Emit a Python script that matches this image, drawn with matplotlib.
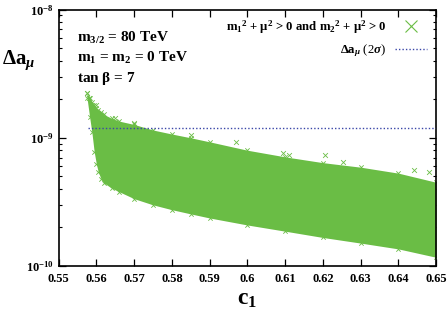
import matplotlib
matplotlib.use("Agg")
import matplotlib.pyplot as plt
from matplotlib.lines import Line2D
from matplotlib.ticker import FixedLocator, LogLocator, NullFormatter, FixedFormatter
import numpy as np

plt.rcParams['font.family'] = ['Liberation Serif', 'DejaVu Serif']
plt.rcParams['mathtext.fontset'] = 'custom'
plt.rcParams['mathtext.rm'] = 'Liberation Serif:bold'
plt.rcParams['mathtext.bf'] = 'Liberation Serif:bold'
plt.rcParams['mathtext.it'] = 'Liberation Serif:italic:bold'

# Envelope of the allowed scan region
c1 = [0.5575, 0.5582, 0.5588, 0.5594, 0.5600, 0.5605, 0.5612, 0.562, 0.564, 0.566, 0.570, 0.575, 0.580,
      0.585, 0.590, 0.600, 0.610, 0.620, 0.630, 0.640, 0.650]
upper = [2.25e-9, 2.05e-9, 1.9e-9, 1.8e-9, 1.72e-9, 1.66e-9, 1.60e-9, 1.52e-9, 1.42e-9, 1.35e-9, 1.27e-9,
         1.15e-9, 1.07e-9, 1.0e-9, 9.3e-10, 8.0e-10, 7.1e-10, 6.4e-10, 5.9e-10, 5.3e-10, 4.5e-10]
lower = [2.05e-9, 1.45e-9, 1.1e-9, 7.8e-10, 6.2e-10, 5.4e-10, 4.8e-10, 4.45e-10, 4.05e-10, 3.8e-10, 3.35e-10,
         3.0e-10, 2.75e-10, 2.55e-10, 2.37e-10, 2.09e-10, 1.87e-10, 1.67e-10, 1.51e-10, 1.36e-10, 1.17e-10]

# sparse outlier points above the dense band
out_x = [0.5575, 0.5580, 0.5600, 0.5650, 0.5700, 0.5850, 0.5970, 0.6095, 0.6110, 0.6206, 0.6254, 0.6440, 0.6480]
out_y = [2.25e-9, 2.05e-9, 1.80e-9, 1.42e-9, 1.30e-9, 1.05e-9, 9.3e-10, 7.6e-10, 7.4e-10, 7.3e-10, 6.5e-10, 5.6e-10, 5.4e-10]

# 2 sigma line
line_x = [0.5578, 0.65]
line_y = [1.2e-9, 1.2e-9]

green = '#6abd45'
blue = '#3a46a8'

fig = plt.figure(figsize=(4.48, 3.19), dpi=100)
ax = fig.add_axes([0.131, 0.166, 0.8427, 0.804])

ax.fill_between(c1, lower, upper, color=green, linewidth=0, zorder=2)
ax.scatter(c1, upper, marker='x', s=10, color=green, linewidths=0.6, zorder=2)
ax.scatter(c1, lower, marker='x', s=10, color=green, linewidths=0.6, zorder=2)
ax.scatter(out_x, out_y, marker='x', s=12, color=green, linewidths=0.6, zorder=2)
ax.plot(line_x, line_y, color=blue, linestyle=(0, (1, 1.5)), linewidth=1.0, zorder=3)

ax.set_yscale('log')
ax.set_xlim(0.55, 0.65)
ax.set_ylim(1e-10, 1e-8)

xt = [0.55, 0.56, 0.57, 0.58, 0.59, 0.60, 0.61, 0.62, 0.63, 0.64, 0.65]
xtl = ['0.55', '0.56', '0.57', '0.58', '0.59', '0.6', '0.61', '0.62', '0.63', '0.64', '0.65']
ax.xaxis.set_major_locator(FixedLocator(xt))
ax.xaxis.set_major_formatter(FixedFormatter(xtl))
ax.yaxis.set_major_locator(FixedLocator([1e-10, 1e-9, 1e-8]))
ax.yaxis.set_major_formatter(FixedFormatter([r'$\mathbf{10^{-10}}$', r'$\mathbf{10^{-9}}$', r'$\mathbf{10^{-8}}$']))
ax.yaxis.set_minor_locator(LogLocator(base=10, subs=np.arange(2, 10)))
ax.yaxis.set_minor_formatter(NullFormatter())

ax.tick_params(which='both', direction='in', top=True, right=True, labelsize=9)
ax.tick_params(which='major', length=5, width=0.9)
ax.tick_params(which='minor', length=2.5, width=0.8)
for lab in ax.get_xticklabels():
    lab.set_fontweight('bold')
ax.tick_params(axis='x', pad=5)
for s in ax.spines.values():
    s.set_linewidth(1.2)

ax.set_xlabel(r'$\mathbf{c_1}$', fontsize=17, labelpad=3)
fig.text(0.005, 0.81, r'$\Delta\mathbf{a}_{\mu}$', fontsize=15, ha='left', va='center')

ax.text(0.048, 0.889, r'$\mathbf{m_{3/2}}$ = 80 TeV', transform=ax.transAxes, fontsize=11,
        fontweight='bold', va='center')
ax.text(0.048, 0.811, r'$\mathbf{m_1}$ = $\mathbf{m_2}$ = 0 TeV', transform=ax.transAxes, fontsize=11,
        fontweight='bold', va='center')
ax.text(0.048, 0.733, r'tan $\mathbf{\beta}$ = 7', transform=ax.transAxes, fontsize=11,
        fontweight='bold', va='center')

h1 = Line2D([], [], marker='x', color=green, linestyle='none', markersize=8, markeredgewidth=0.8)
h2 = Line2D([], [], color=blue, linestyle=(0, (1, 1.5)), linewidth=1.0)
leg = ax.legend([h1, h2],
                [r'$\mathbf{m_1}^2$ + $\mathbf{\mu}^2$ > 0 and $\mathbf{m_2}^2$ + $\mathbf{\mu}^2$ > 0',
                 r'$\Delta\mathbf{a}_{\mu}$ (2$\sigma$)'],
                loc='upper right', frameon=False, markerfirst=False, fontsize=9.2,
                handlelength=2.5, handletextpad=0.7, borderaxespad=0.3, labelspacing=0.5)
for t in leg.get_texts():
    t.set_ha('right')
leg.get_texts()[0].set_fontweight('bold')

fig.savefig('out.png', dpi=100)
